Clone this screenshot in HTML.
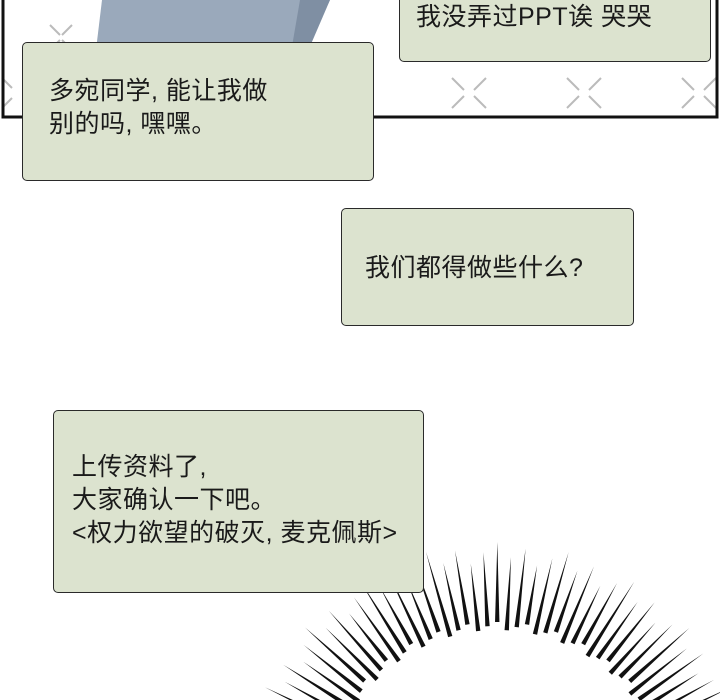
<!DOCTYPE html>
<html><head><meta charset="utf-8"><style>
html,body{margin:0;width:720px;height:700px;overflow:hidden;}
body{background:#fff;position:relative;font-family:"Liberation Sans","Noto Sans CJK SC",sans-serif;}
.b{position:absolute;background:#dce3cf;border:1.5px solid #2a2a2a;border-radius:5px;box-sizing:border-box;color:#1a1a1a;font-size:25px;line-height:33px;overflow:hidden;}
.b div{position:absolute;white-space:nowrap;letter-spacing:0.5px;}
</style></head><body>
<svg width="720" height="700" style="position:absolute;left:0;top:0">
<polygon points="102,0 330,0 300,58 95,58" fill="#9aa9bb"/>
<polygon points="300,0 330,0 305,58 290,58" fill="#7f8fa3"/>
<g stroke="#bbb" stroke-width="2">
<path d="M50 25 L60 35 M72 25 L62 35 M50 50 L60 40 M72 50 L62 40"/>
<path d="M452 78 L464 90 M486 78 L474 90 M452 108 L464 96 M486 108 L474 96"/>
<path d="M567 78 L579 90 M601 78 L589 90 M567 108 L579 96 M601 108 L589 96"/>
<path d="M682 78 L694 90 M716 78 L704 90 M682 108 L694 96 M716 108 L704 96"/>
<path d="M2 78 L12 88 M2 108 L12 98"/>
</g>
<path d="M3 0 V117 H717 V0" fill="none" stroke="#111" stroke-width="3"/>
<g id="burst"></g>
</svg>
<div class="b" style="left:399px;top:-20px;width:312px;height:82px"><div style="left:16px;top:20px">我没弄过PPT诶 哭哭</div></div>
<div class="b" style="left:22px;top:42px;width:352px;height:139px"><div style="left:26px;top:32px">多宛同学, 能让我做<br>别的吗, 嘿嘿。</div></div>
<div class="b" style="left:341px;top:208px;width:293px;height:118px"><div style="left:23px;top:43px">我们都得做些什么?</div></div>
<div class="b" style="left:53px;top:410px;width:371px;height:183px"><div style="left:18px;top:40px">上传资料了,<br>大家确认一下吧。<br>&lt;权力欲望的破灭, 麦克佩斯&gt;</div></div>
<script>
var g=document.getElementById('burst'),s='',cx=497,cy=800;
for(var i=0;i<66;i++){var a=Math.PI*0.93+i*0.056;
var r1=170+(i%3)*4,r2=238+((i*7)%5)*5;
var c=Math.cos(a),sn=Math.sin(a),px=-sn,py=c,w=2.2;
var x1=cx+c*r1,y1=cy+sn*r1,x2=cx+c*r2,y2=cy+sn*r2;
s+='<polygon points="'+(x1+px*w)+','+(y1+py*w)+' '+(x1-px*w)+','+(y1-py*w)+' '+x2+','+y2+'" fill="#111"/>';}
g.innerHTML=s;
</script>
</body></html>
